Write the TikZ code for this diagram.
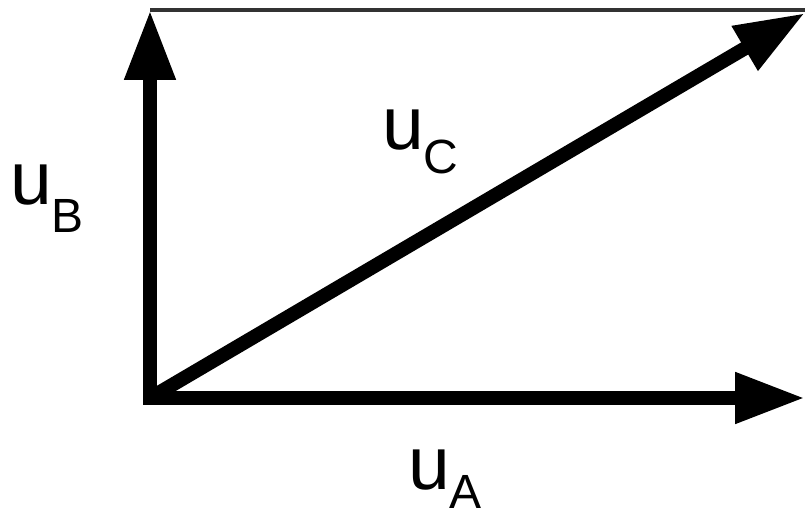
\documentclass[tikz,border=0pt]{standalone}
\usepackage{fontspec}
\setmainfont{Liberation Sans}
\usepackage{tikz}
\usetikzlibrary{arrows.meta}
\newcommand{\bigu}{\fontsize{75}{75}\selectfont u}
\newcommand{\subl}[2]{\raisebox{-#1pt}{\fontsize{48}{48}\selectfont #2}}

\begin{document}
\begin{tikzpicture}[x=1pt, y=-1pt,
    vec/.style={line width=14pt, -{Triangle[length=70pt,width=48pt]}},
    lbl/.style={anchor=base west, inner sep=0pt}]
        \useasboundingbox (0,0) rectangle (805,518);
        % Points
        \coordinate (o) at (150,398);
        \coordinate (a) at (805,398);
        \coordinate (b) at (150,10);
        \coordinate (c) at (805,13);
        \coordinate (tr) at (805,10);
        % Top edge
        \draw[line width=3.5pt, black!80] (b) -- (tr);
        % Vectors
        \draw[vec, line cap=rect] (o) -- (b);
        \draw[vec, line cap=rect] (o) -- (a);
        \draw[vec] (o) -- (c);
        % Labels
        \node[lbl] (labB) at (10,205) {\bigu\subl{28}{B}};
        \node[lbl] (labC) at (382,150) {\bigu\subl{24}{C}};
        \node[lbl] (labA) at (408,489) {\bigu\subl{19}{A}};
      \end{tikzpicture}
\end{document}
